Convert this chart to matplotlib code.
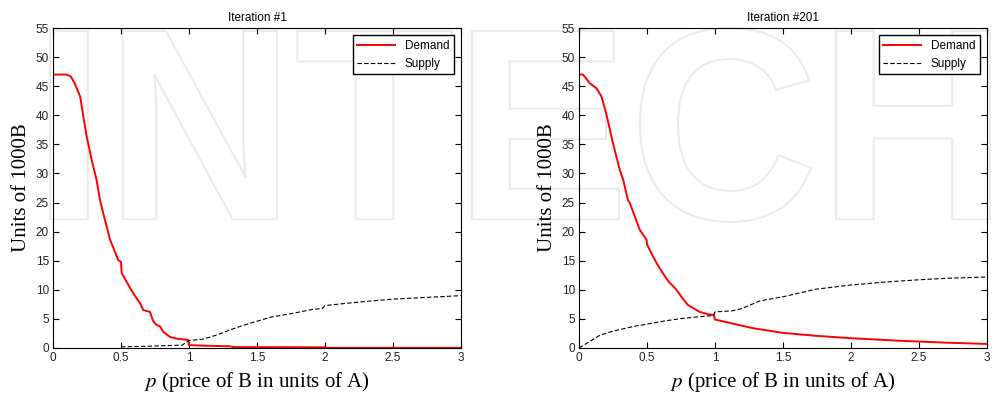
import matplotlib.pyplot as plt
import numpy as np
from matplotlib.textpath import TextPath
from matplotlib.patches import PathPatch
from matplotlib.font_manager import FontProperties
from matplotlib.transforms import Affine2D

plt.rcParams['mathtext.fontset'] = 'stix'

# Iteration #1
p1_dem = [0, 0.10, 0.13, 0.16, 0.20, 0.223, 0.248, 0.285, 0.32, 0.346, 0.37, 0.42, 0.48, 0.50, 0.505,
          0.55, 0.59, 0.64, 0.664, 0.70, 0.713, 0.737, 0.76, 0.787, 0.81, 0.86, 0.91, 0.995, 1.0,
          1.1, 1.3, 1.33, 1.5, 2.0, 2.01, 3.0]
d1 = [47, 47, 46.7, 45.5, 43.2, 39.8, 36.3, 32.3, 28.9, 25.4, 23.1, 18.6, 15.1, 14.8, 12.9,
      11.0, 9.4, 7.7, 6.5, 6.3, 6.2, 4.6, 4.0, 3.7, 2.8, 1.9, 1.6, 1.4, 0.5,
      0.4, 0.3, 0.15, 0.15, 0.12, 0.02, 0.02]
p1_sup = [0.5, 0.7, 0.95, 1.0, 1.1, 1.2, 1.3, 1.4, 1.5, 1.6, 1.75, 1.9, 1.98, 2.0, 2.25, 2.5, 2.75, 3.0]
s1 = [0.2, 0.3, 0.5, 1.3, 1.5, 2.2, 3.1, 3.9, 4.6, 5.3, 5.9, 6.6, 6.8, 7.3, 7.9, 8.4, 8.7, 9.0]

# Iteration #201
p2_dem = [0, 0.03, 0.08, 0.13, 0.166, 0.2, 0.25, 0.30, 0.325, 0.36, 0.374, 0.447, 0.497, 0.50, 0.57,
          0.643, 0.66, 0.717, 0.753, 0.80, 0.888, 0.95, 0.99, 1.0, 1.13, 1.28, 1.5, 1.74, 1.99,
          2.35, 2.72, 3.0]
d2 = [47, 47, 45.5, 44.6, 43.2, 40.3, 35.2, 30.6, 28.9, 25.4, 24.9, 20.3, 18.6, 17.8, 14.6,
      11.9, 11.4, 10.0, 8.8, 7.4, 6.2, 5.8, 5.7, 4.9, 4.2, 3.4, 2.6, 2.1, 1.7,
      1.25, 0.9, 0.7]
p2_sup = [0, 0.154, 0.25, 0.40, 0.52, 0.643, 0.765, 0.90, 0.99, 1.0, 1.13, 1.2, 1.23, 1.33, 1.5,
          1.74, 1.99, 2.23, 2.48, 2.72, 3.0]
s2 = [0, 2.2, 2.9, 3.7, 4.2, 4.7, 5.1, 5.4, 5.6, 6.2, 6.4, 6.8, 7.1, 8.1, 8.8,
      10.1, 10.8, 11.3, 11.7, 12.0, 12.2]

titles = ['Iteration #1', 'Iteration #201']
panels = [(p1_dem, d1, p1_sup, s1), (p2_dem, d2, p2_sup, s2)]

fig = plt.figure(figsize=(9.93, 3.93), dpi=100)

# faint watermark behind the plots
tp = TextPath((0, 0), 'INTECH', size=1, prop=FontProperties(family='Liberation Sans', weight='bold'))
ext = tp.get_extents()
x0, x1, y0, y1 = 50, 990, 393 - 222, 393 - 28
tr = Affine2D().translate(-ext.x0, -ext.y0).scale((x1 - x0) / ext.width, (y1 - y0) / ext.height).translate(x0, y0)
wm = PathPatch(tr.transform_path(tp), facecolor='none', edgecolor='#ebebeb', lw=1.5,
               transform=None, zorder=-5)
fig.patches.append(wm)

lefts = [53 / 993, 579 / 993]
w = 408 / 993
for i in range(2):
    ax = fig.add_axes([lefts[i], 1 - 348 / 393, w, 320 / 393])
    ax.set_facecolor('none')
    pd_, dv, ps, sv = panels[i]
    ax.plot(pd_, dv, color='#ff0000', lw=1.4, label='Demand')
    ax.plot(ps, sv, color='black', ls='--', lw=0.8, dashes=(4, 2), label='Supply')
    ax.set_xlim(0, 3)
    ax.set_ylim(0, 55)
    ax.set_xticks([0, 0.5, 1, 1.5, 2, 2.5, 3])
    ax.set_xticklabels(['0', '0.5', '1', '1.5', '2', '2.5', '3'])
    ax.set_yticks(range(0, 56, 5))
    ax.tick_params(direction='in', top=True, right=True, labelsize=8.5, length=4,
                   labelcolor='#222222', pad=3)
    for lab in ax.get_xticklabels() + ax.get_yticklabels():
        lab.set_family('Liberation Sans')
    ax.set_title(titles[i], fontsize=8.5, family='Liberation Sans', pad=5)
    ax.set_xlabel(r'$p$ (price of B in units of A)', fontsize=15, family='Liberation Serif', labelpad=4)
    ax.set_ylabel('Units of 1000B', fontsize=15, family='Liberation Serif', labelpad=3)
    leg = ax.legend(loc='upper right', prop={'family': 'Liberation Sans', 'size': 8.5},
                    fancybox=False, edgecolor='black', framealpha=1, borderpad=0.4,
                    labelspacing=0.5, handlelength=3.2, borderaxespad=0.6)
    leg.get_frame().set_linewidth(1.0)

fig.savefig('out.png', dpi=100)
